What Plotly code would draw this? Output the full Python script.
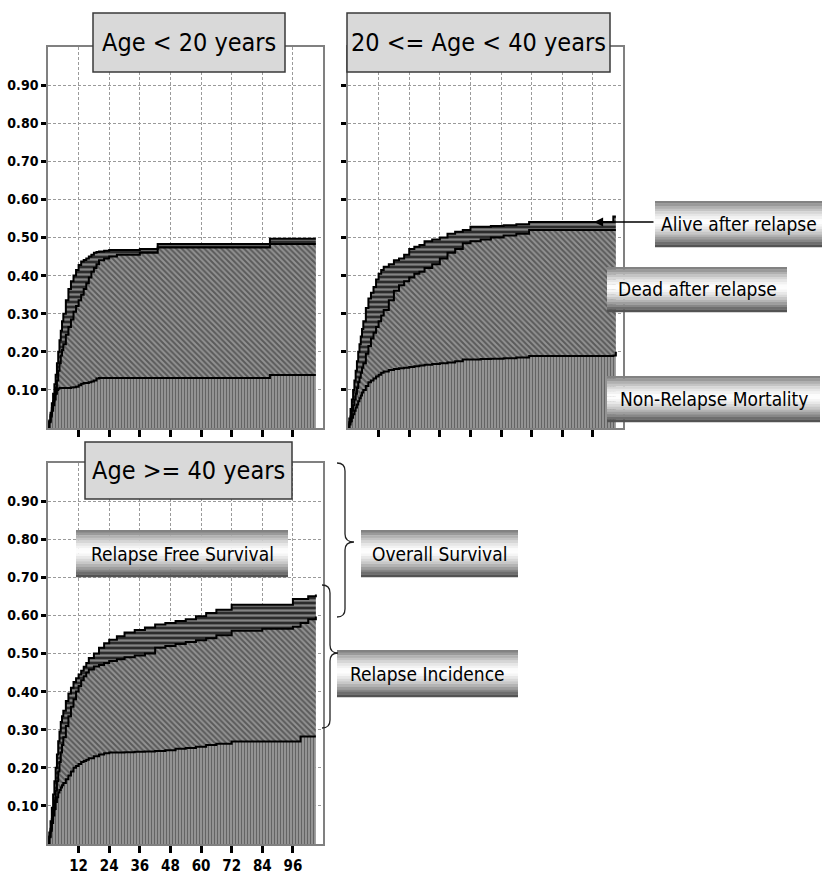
import plotly.graph_objects as go
import numpy as np

# ---------------- DATA (cumulative boundaries) ----------------
# Panel 1: Age < 20 years
t_lt20 = [0, 0.5, 1, 1.5, 2, 2.5, 3, 3.5, 4, 4.5, 5, 5.5, 6, 7, 8, 9, 10, 11, 12, 13, 14, 15, 16,
          17, 18, 19, 20, 22, 24, 27, 30, 36, 43, 87, 105]
nrm_lt20 = [0, .015, .03, .045, .06, .075, .09, .1, .103, .105, .105, .105, .105, .105, .105, .106,
            .107, .108, .112, .116, .118, .118, .12, .122, .125, .13, .131, .131, .131, .131, .131,
            .131, .131, .139, .139]
dead_cum_lt20 = [0, .017, .035, .052, .07, .088, .105, .125, .15, .17, .19, .205, .22, .245, .265,
                 .285, .305, .32, .335, .35, .365, .38, .395, .41, .42, .43, .44, .445, .45, .455,
                 .455, .46, .474, .483, .483]
total_lt20 = [0, .02, .04, .065, .09, .115, .14, .17, .2, .23, .255, .28, .3, .335, .365, .385,
              .4, .415, .428, .437, .441, .445, .45, .455, .46, .462, .463, .465, .467, .467, .467,
              .47, .483, .497, .497]

# Panel 2: 20 <= Age < 40 years
t_20_40 = [0, 0.5, 1, 1.5, 2, 2.5, 3, 3.5, 4, 4.5, 5, 5.5, 6, 7, 8, 9, 10, 11, 12, 13, 14, 16, 18,
           20, 22, 24, 26, 28, 30, 33, 36, 39, 42, 45, 48, 52, 56, 61, 66, 71, 104, 105]
nrm_20_40 = [0, .009, .018, .027, .036, .045, .054, .062, .07, .078, .085, .093, .1, .11, .12,
             .125, .13, .135, .14, .145, .148, .152, .155, .157, .158, .16, .162, .164, .166,
             .168, .17, .172, .175, .18, .18, .181, .182, .183, .185, .189, .19, .2]
dead_cum_20_40 = [0, .015, .03, .045, .06, .075, .09, .105, .12, .132, .145, .158, .17, .195,
                  .215, .235, .25, .265, .28, .295, .31, .335, .36, .375, .385, .395, .405, .41,
                  .42, .43, .445, .46, .47, .485, .49, .495, .5, .505, .51, .52, .52, .52]
total_20_40 = [0, .025, .05, .075, .1, .125, .15, .175, .2, .22, .24, .26, .28, .315, .34, .355,
               .37, .39, .405, .415, .423, .43, .44, .445, .455, .47, .476, .48, .49, .495, .5,
               .51, .515, .52, .528, .528, .53, .532, .535, .541, .555, .555]

# Panel 3: Age >= 40 years
t_ge40 = [0, 0.5, 1, 1.5, 2, 2.5, 3, 3.5, 4, 4.5, 5, 5.5, 6, 7, 8, 9, 10, 11, 12, 13, 14, 15, 16,
          18, 20, 22, 24, 27, 30, 34, 38, 42, 46, 50, 54, 58, 62, 66, 72, 84, 96, 99, 102, 105]
nrm_ge40 = [0, .018, .035, .055, .075, .092, .11, .123, .135, .142, .148, .154, .16, .17, .18,
            .19, .2, .205, .21, .215, .218, .221, .225, .23, .235, .238, .24, .24, .241, .242,
            .243, .244, .246, .25, .252, .255, .26, .263, .269, .269, .269, .282, .282, .282]
dead_cum_ge40 = [0, .02, .04, .065, .09, .115, .14, .165, .19, .215, .24, .26, .28, .31, .335,
                 .36, .38, .4, .415, .43, .44, .45, .458, .466, .47, .475, .48, .485, .49, .495,
                 .5, .515, .52, .525, .53, .535, .54, .548, .56, .565, .57, .58, .59, .597]
total_ge40 = [0, .03, .06, .095, .13, .165, .2, .235, .27, .295, .32, .335, .35, .375, .395, .41,
              .425, .435, .445, .455, .465, .475, .488, .5, .515, .527, .536, .545, .555, .562,
              .568, .576, .58, .585, .59, .598, .606, .615, .628, .628, .643, .643, .65, .655]

panel_titles = ["Age < 20 years", "20 <= Age < 40 years", "Age >= 40 years"]
x_tickvals = [12, 24, 36, 48, 60, 72, 84, 96]
y_tickvals = [0.1, 0.2, 0.3, 0.4, 0.5, 0.6, 0.7, 0.8, 0.9]
y_ticktext = ["0.10", "0.20", "0.30", "0.40", "0.50", "0.60", "0.70", "0.80", "0.90"]

# ---------------- LAYOUT HELPERS ----------------
W, H = 822, 876
def px(x):
    return x / W
def py(y):
    return 1 - y / H

NARROW = "DejaVu Sans Condensed, Liberation Sans Narrow, Arial Narrow, sans-serif"

fig = go.Figure()

panels = [
    (t_lt20, nrm_lt20, dead_cum_lt20, total_lt20, "x", "y"),
    (t_20_40, nrm_20_40, dead_cum_20_40, total_20_40, "x2", "y2"),
    (t_ge40, nrm_ge40, dead_cum_ge40, total_ge40, "x3", "y3"),
]

for t, nrm, dead, tot, xa, ya in panels:
    fig.add_trace(go.Scatter(
        x=t, y=nrm, xaxis=xa, yaxis=ya, mode="lines", line=dict(color="black", width=2, shape="hv"),
        fill="tozeroy",
        fillpattern=dict(shape="|", fgcolor="#262626", bgcolor="#a2a2a2", size=3, solidity=0.5),
        hoverinfo="skip"))
    fig.add_trace(go.Scatter(
        x=t, y=dead, xaxis=xa, yaxis=ya, mode="lines", line=dict(color="black", width=2, shape="hv"),
        fill="tonexty",
        fillpattern=dict(shape="\\", fgcolor="#222222", bgcolor="#929292", size=4, solidity=0.5),
        hoverinfo="skip"))
    fig.add_trace(go.Scatter(
        x=t, y=tot, xaxis=xa, yaxis=ya, mode="lines", line=dict(color="black", width=2, shape="hv"),
        fill="tonexty",
        fillpattern=dict(shape="-", fgcolor="#dcdcdc", bgcolor="#2c2c2c", size=5, solidity=0.45),
        hoverinfo="skip"))

# axis domains (pixel based)
dom_x1 = [px(48), px(323)]
dom_x2 = [px(348), px(623)]
dom_y_top = [py(428), py(47)]
dom_y_bot = [py(844), py(463)]

def xaxis_cfg(domain, anchor, labels):
    return dict(domain=domain, anchor=anchor, range=[0, 107.8], tickvals=x_tickvals,
                showticklabels=labels, ticks="outside", ticklen=7, tickwidth=2.5, tickcolor="black",
                showgrid=True, gridcolor="#9a9a9a", gridwidth=1, griddash="3px,2px",
                showline=True, linecolor="#808080", linewidth=1.5, mirror=True, zeroline=False,
                tickfont=dict(family=NARROW, size=15, color="black", weight="bold"))

def yaxis_cfg(domain, anchor, labels):
    return dict(domain=domain, anchor=anchor, range=[0, 1.0], tickvals=y_tickvals, ticktext=y_ticktext,
                showticklabels=labels, ticks="outside", ticklen=5, tickwidth=3, tickcolor="black",
                showgrid=True, gridcolor="#9a9a9a", gridwidth=1, griddash="3px,2px",
                showline=True, linecolor="#808080", linewidth=1.5, mirror=True, zeroline=False,
                tickfont=dict(family=NARROW, size=14, color="black", weight="bold"))

fig.update_layout(
    xaxis=xaxis_cfg(dom_x1, "y", False), yaxis=yaxis_cfg(dom_y_top, "x", True),
    xaxis2=xaxis_cfg(dom_x2, "y2", False), yaxis2=yaxis_cfg(dom_y_top, "x2", False),
    xaxis3=xaxis_cfg(dom_x1, "y3", True), yaxis3=yaxis_cfg(dom_y_bot, "x3", True),
)

shapes = []
annotations = []

# title boxes
title_boxes = [(93, 13, 285, 72), (347, 13, 610, 72), (85, 442, 292, 499)]
for (x0, y0, x1, y1), txt in zip(title_boxes, panel_titles):
    shapes.append(dict(type="rect", xref="paper", yref="paper", x0=px(x0), x1=px(x1), y0=py(y1), y1=py(y0),
                       fillcolor="#d9d9d9", line=dict(color="#3a3a3a", width=1.5), layer="above"))
    annotations.append(dict(text=txt, xref="paper", yref="paper", x=px((x0 + x1) / 2), y=py((y0 + y1) / 2),
                            showarrow=False, xanchor="center", yanchor="middle",
                            font=dict(family=NARROW, size=25, color="black")))

# gradient label boxes (simulated with strips)
def grad_box(x0, y0, x1, y1, txt, size=19):
    n = 18
    h = (y1 - y0) / n
    for i in range(n):
        f = (i + 0.5) / n
        d = abs(f - 0.45) / 0.55
        g = int(255 - 185 * min(d, 1) ** 1.5)
        col = "rgb(%d,%d,%d)" % (g, g, g)
        shapes.append(dict(type="rect", xref="paper", yref="paper", x0=px(x0), x1=px(x1),
                           y0=py(y0 + (i + 1) * h + 0.3), y1=py(y0 + i * h), fillcolor=col,
                           line=dict(width=0), layer="above"))
    annotations.append(dict(text=txt, xref="paper", yref="paper", x=px((x0 + x1) / 2), y=py((y0 + y1) / 2),
                            showarrow=False, xanchor="center", yanchor="middle",
                            font=dict(family=NARROW, size=size, color="black")))

grad_box(655, 201, 822, 247, "Alive after relapse")
grad_box(607, 267, 787, 312, "Dead after relapse")
grad_box(607, 376, 820, 422, "Non-Relapse Mortality")
grad_box(76, 530, 288, 577, "Relapse Free Survival")
grad_box(361, 530, 518, 577, "Overall Survival")
grad_box(337, 650, 518, 697, "Relapse Incidence")

# arrow to "Alive after relapse" band
annotations.append(dict(text="", xref="paper", yref="paper", x=px(594), y=py(222),
                        ax=61, ay=0, axref="pixel", ayref="pixel", showarrow=True,
                        arrowhead=2, arrowsize=1.4, arrowwidth=1.3, arrowcolor="black"))

# braces
def brace(x, y0, y1, ym, tipx, curlx, r=8):
    pts = [("M", curlx, y0), ("Q", x, y0, x, y0 + r), ("L", x, ym - r), ("Q", x, ym, tipx, ym),
           ("Q", x, ym, x, ym + r), ("L", x, y1 - r), ("Q", x, y1, curlx, y1)]
    s = ""
    for p in pts:
        cmd = p[0]
        coords = p[1:]
        parts = []
        for j in range(0, len(coords), 2):
            parts.append("%.5f,%.5f" % (px(coords[j]), py(coords[j + 1])))
        s += cmd + " " + " ".join(parts) + " "
    shapes.append(dict(type="path", xref="paper", yref="paper", path=s.strip(),
                       line=dict(color="#222", width=1.3), layer="above"))

brace(345, 463, 617, 542, 354, 337)
brace(330, 585, 728, 653, 338, 322)

fig.update_layout(
    width=W, height=H, margin=dict(l=0, r=0, t=0, b=0),
    paper_bgcolor="white", plot_bgcolor="white", showlegend=False,
    shapes=shapes, annotations=annotations,
)

fig.write_html("out.html")
